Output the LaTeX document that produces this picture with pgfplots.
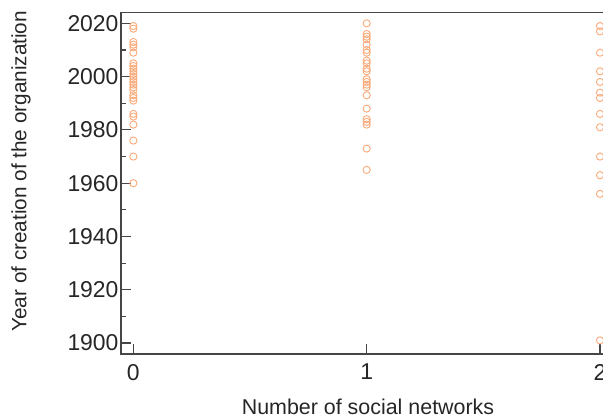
\documentclass[border=0pt]{standalone}
\usepackage{fontspec}
\setmainfont{Liberation Sans}
\usepackage{pgfplots}
\pgfplotsset{compat=1.18}

\definecolor{markor}{RGB}{249,170,122}
\definecolor{axgray}{RGB}{70,70,70}

\begin{document}
\begin{tikzpicture}
\begin{axis}[
  at={(0,0)}, anchor=south west,
  scale only axis,
  width=493bp, height=341bp,
  xmin=-0.053, xmax=2.06,
  ymin=1896, ymax=2024,
  axis line style={axgray, line width=1.6bp},
  every tick/.style={axgray, line width=1.1bp},
  tick align=inside,
  xtick pos=bottom, ytick pos=left,
  major tick length=10bp, minor tick length=5bp,
  xtick={0,1,2},
  ytick={1900,1920,...,2020},
  minor ytick={1910,1930,...,2010},
  /pgf/number format/assume math mode=true,
  /pgf/number format/1000 sep={},
  tick label style={font=\fontsize{23}{26}\selectfont, text=black!85},
  yticklabel style={xshift=1bp},
  xticklabel style={yshift=-7bp},
  xlabel={Number of social networks},
  ylabel={Year of creation of the organization},
  xlabel style={font=\fontsize{21.5}{24}\selectfont, text=black!85,
    at={(axis description cs:0.501,-0.155)}, anchor=center},
  ylabel style={font=\fontsize{20.8}{24}\selectfont, text=black!85,
    at={(axis description cs:-0.203,0.535)}, anchor=center},
]
% x = 0
\addplot[only marks, mark=o, mark size=3.6bp, markor, mark options={line width=0.9bp}]
  coordinates {
    (0,2019) (0,2018) (0,2013) (0,2012) (0,2011) (0,2009)
    (0,2005) (0,2004) (0,2003) (0,2002) (0,2001) (0,2000)
    (0,1999) (0,1998) (0,1997) (0,1996) (0,1995) (0,1993)
    (0,1992) (0,1991) (0,1986) (0,1985) (0,1982) (0,1976)
    (0,1970) (0,1960)
};
% x = 1
\addplot[only marks, mark=o, mark size=3.6bp, markor, mark options={line width=0.9bp}]
  coordinates {
    (1,2020) (1,2016) (1,2015) (1,2014) (1,2012) (1,2010)
    (1,2009) (1,2006) (1,2005) (1,2003) (1,2002) (1,1999)
    (1,1998) (1,1997) (1,1996) (1,1993) (1,1988) (1,1984)
    (1,1983) (1,1982) (1,1973) (1,1965)
};
% x = 2
\addplot[only marks, mark=o, mark size=3.6bp, markor, mark options={line width=0.9bp}]
  coordinates {
    (2,2019) (2,2017) (2,2009) (2,2002) (2,1998) (2,1994)
    (2,1992) (2,1986) (2,1981) (2,1970) (2,1963) (2,1956)
    (2,1901)
};
\end{axis}
\pgfresetboundingbox
\useasboundingbox (-121bp,-64.3bp) rectangle (482bp,353.7bp);
\end{tikzpicture}
\end{document}
